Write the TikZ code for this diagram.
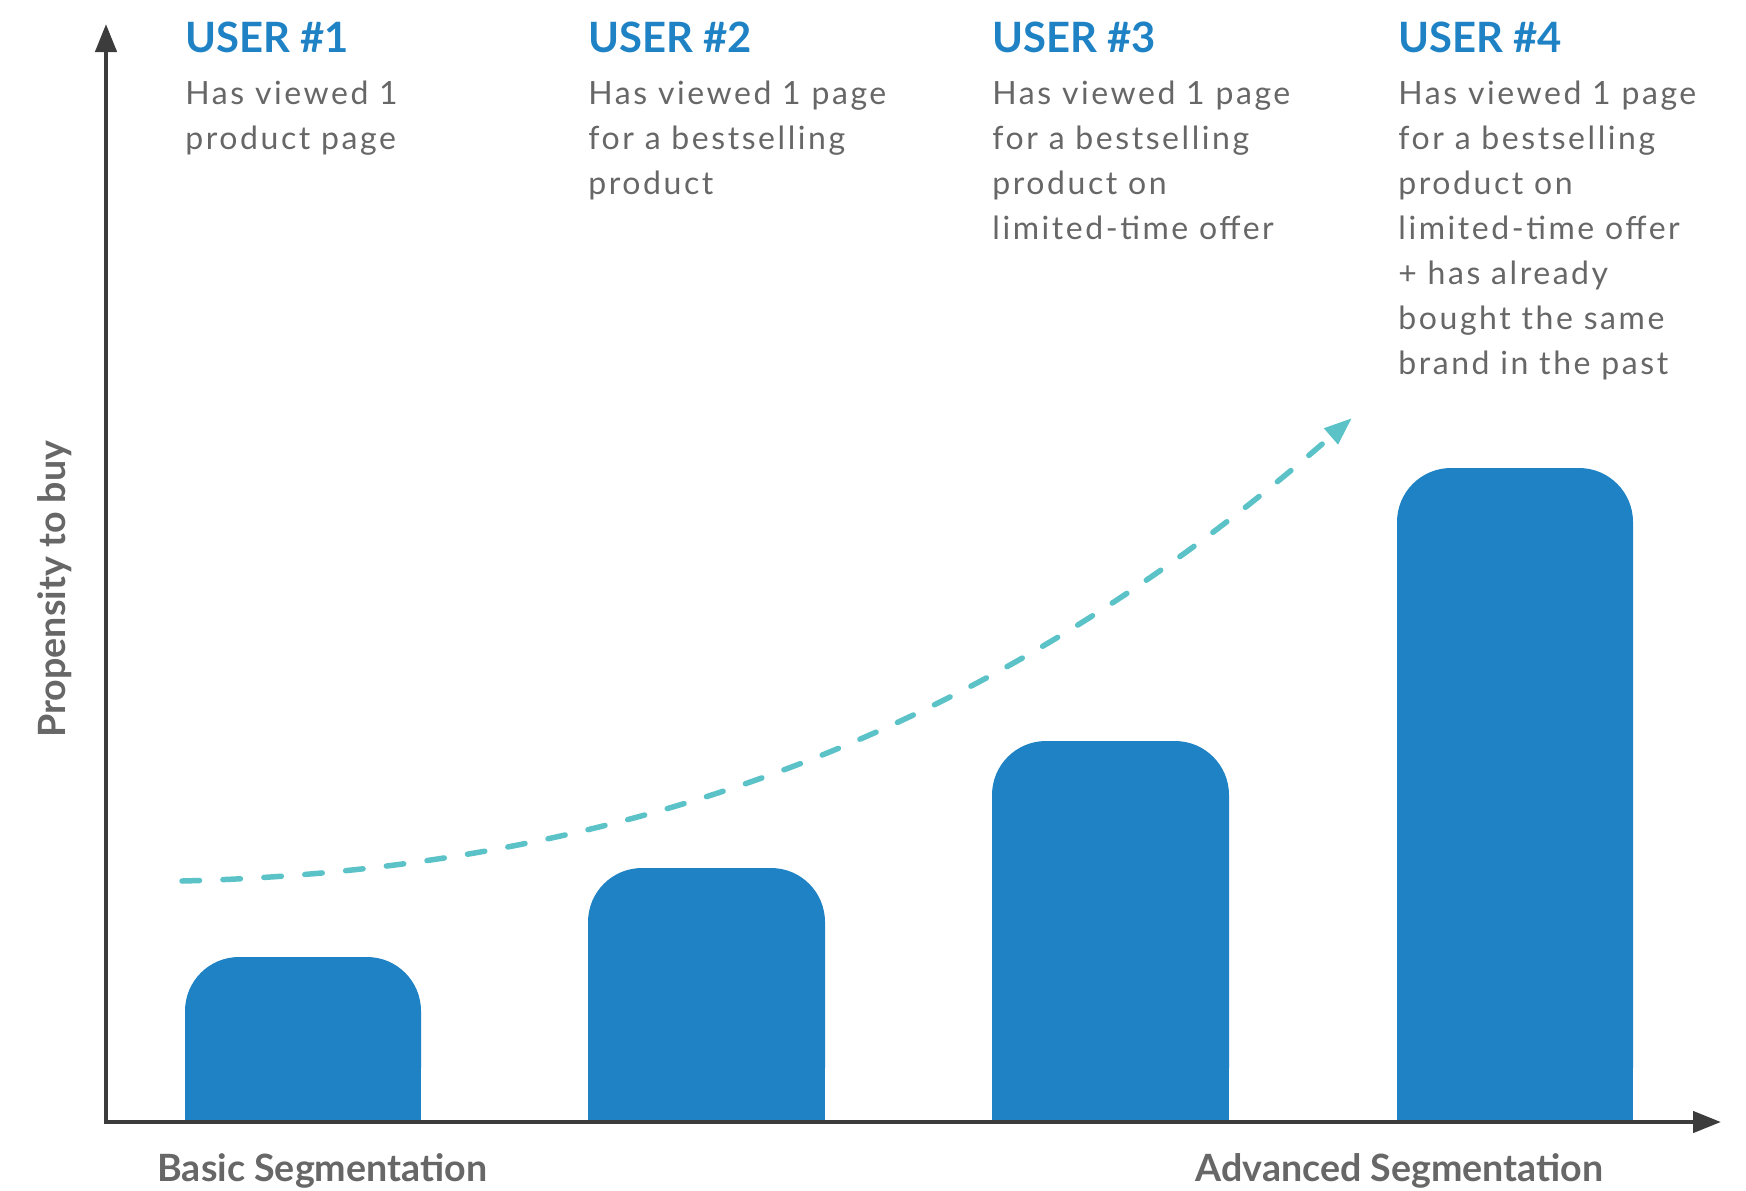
\documentclass[tikz,border=0pt]{standalone}
\usepackage{fontspec}
\setmainfont{Lato}
\newfontfamily\bodyfont[LetterSpace=8]{Lato}
\usetikzlibrary{arrows.meta}
\definecolor{barblue}{HTML}{1E82C4}
\definecolor{titleblue}{HTML}{1E82C4}
\definecolor{txtgrey}{HTML}{676767}
\definecolor{axisgrey}{HTML}{3C3C3C}
\definecolor{curvecol}{HTML}{5BC3C8}
\begin{document}
\begin{tikzpicture}[x=0.5pt,y=-0.5pt,
  bar/.style={fill=barblue},
  axisline/.style={draw=axisgrey, line width=2.25pt, line join=miter,
    {Triangle[length=14pt,width=10.5pt]}-{Triangle[length=14pt,width=10.5pt]}},
  usertitle/.style={anchor=base west, inner sep=0pt, text=titleblue,
    font=\fontsize{20.9}{25}\selectfont\bfseries},
  body/.style={anchor=base west, inner sep=0pt, text=txtgrey,
    font=\bodyfont\fontsize{16}{22.5}\selectfont},
  seglabel/.style={inner sep=0pt, text=txtgrey,
    font=\fontsize{18.8}{22}\selectfont\bfseries},
  trend/.style={draw=curvecol, line width=2.75pt, line cap=round,
    dash pattern=on 8.75pt off 11.75pt, -{Triangle[length=14pt,width=10pt]}}
]
\useasboundingbox (0,0) rectangle (1746,1190);

% bars
\fill[bar, rounded corners=27pt] (185,957) rectangle (421,1122);
\fill[bar] (185,1040) rectangle (421,1122);
\fill[bar, rounded corners=27pt] (588,868) rectangle (825,1122);
\fill[bar] (588,1000) rectangle (825,1122);
\fill[bar, rounded corners=27pt] (992,741) rectangle (1229,1122);
\fill[bar] (992,900) rectangle (1229,1122);
\fill[bar, rounded corners=27pt] (1397,468) rectangle (1633,1122);
\fill[bar] (1397,800) rectangle (1633,1122);

% axes
\coordinate (origin) at (106,1122);
\coordinate (ytip) at (106,24);
\coordinate (xtip) at (1721,1122);
\draw[axisline] (ytip) -- (origin) -- (xtip);

% trend curve
\coordinate (cstart) at (182,881);
\coordinate (cend) at (1352,418);
\draw[trend] (cstart) .. controls (700,868) and (1052,680) .. (cend);

% titles
\node[usertitle] (t1) at (185,52) {USER \#1};
\node[usertitle] (t2) at (588,52) {USER \#2};
\node[usertitle] (t3) at (992,52) {USER \#3};
\node[usertitle] (t4) at (1398,52) {USER \#4};

% descriptions
\node[body] (d1) at (185,104) {\begin{tabular}[t]{@{}l@{}}Has viewed 1\\product page\end{tabular}};
\node[body] (d2) at (588,104) {\begin{tabular}[t]{@{}l@{}}Has viewed 1 page\\for a bestselling\\product\end{tabular}};
\node[body] (d3) at (992,104) {\begin{tabular}[t]{@{}l@{}}Has viewed 1 page\\for a bestselling\\product on\\limited-time offer\end{tabular}};
\node[body] (d4) at (1398,104) {\begin{tabular}[t]{@{}l@{}}Has viewed 1 page\\for a bestselling\\product on\\limited-time offer\\+ has already\\bought the same\\brand in the past\end{tabular}};

% axis labels
\node[seglabel, anchor=base west] (basic) at (157,1181) {Basic Segmentation};
\node[seglabel, anchor=base east] (adv) at (1604,1181) {Advanced Segmentation};
\node[seglabel, anchor=base west, rotate=90] (prop) at (65,738) {Propensity to buy};
\end{tikzpicture}
\end{document}
